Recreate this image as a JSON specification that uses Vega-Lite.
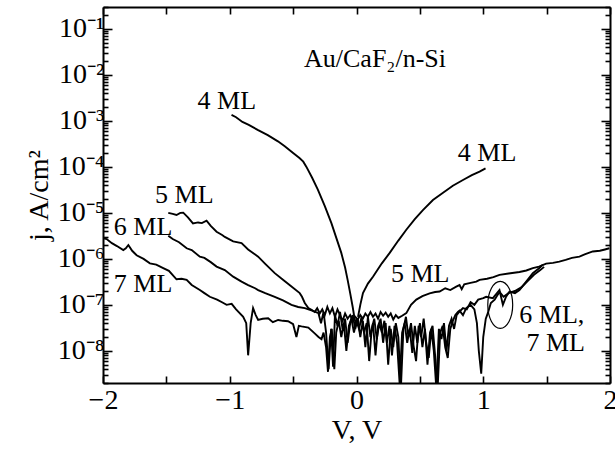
{
  "$schema": "https://vega.github.io/schema/vega-lite/v6.json",
  "width": 507,
  "height": 376,
  "autosize": "none",
  "padding": {"left": 103, "top": 7, "right": 5, "bottom": 69},
  "background": "white",
  "config": {
    "view": {"stroke": null},
    "font": "Liberation Serif",
    "axis": {
      "grid": false,
      "domainColor": "black",
      "domainWidth": 2,
      "tickColor": "black",
      "tickWidth": 1.6,
      "labelColor": "black",
      "titleColor": "black",
      "labelFont": "Liberation Serif",
      "titleFont": "Liberation Serif",
      "labelFontSize": 28,
      "titleFontSize": 28,
      "titleFontWeight": "normal"
    }
  },
  "datasets": {
    "curves": [
      {"s": "4n", "v": -0.986, "j": 1.35e-3},
      {"s": "4n", "v": -0.95, "j": 1.2e-3},
      {"s": "4n", "v": -0.9, "j": 9.5e-4},
      {"s": "4n", "v": -0.85, "j": 8.2e-4},
      {"s": "4n", "v": -0.78, "j": 6.4e-4},
      {"s": "4n", "v": -0.7, "j": 4.9e-4},
      {"s": "4n", "v": -0.62, "j": 3.6e-4},
      {"s": "4n", "v": -0.566, "j": 2.8e-4},
      {"s": "4n", "v": -0.5, "j": 2.0e-4},
      {"s": "4n", "v": -0.45, "j": 1.56e-4},
      {"s": "4n", "v": -0.42, "j": 1.3e-4},
      {"s": "4n", "v": -0.395, "j": 1.0e-4},
      {"s": "4n", "v": -0.35, "j": 5.8e-5},
      {"s": "4n", "v": -0.305, "j": 3.2e-5},
      {"s": "4n", "v": -0.25, "j": 1.4e-5},
      {"s": "4n", "v": -0.198, "j": 6e-6},
      {"s": "4n", "v": -0.16, "j": 2.9e-6},
      {"s": "4n", "v": -0.12, "j": 1.35e-6},
      {"s": "4n", "v": -0.09, "j": 6.5e-7},
      {"s": "4n", "v": -0.07, "j": 3.5e-7},
      {"s": "4n", "v": -0.05, "j": 1.8e-7},
      {"s": "4n", "v": -0.03, "j": 9e-8},
      {"s": "4n", "v": -0.015, "j": 5e-8},
      {"s": "4n", "v": -0.005, "j": 4e-8},
      {"s": "4p", "v": 0.012, "j": 5.5e-8},
      {"s": "4p", "v": 0.03, "j": 1.0e-7},
      {"s": "4p", "v": 0.051, "j": 1.8e-7},
      {"s": "4p", "v": 0.09, "j": 2.9e-7},
      {"s": "4p", "v": 0.13, "j": 4.1e-7},
      {"s": "4p", "v": 0.2, "j": 8e-7},
      {"s": "4p", "v": 0.262, "j": 1.35e-6},
      {"s": "4p", "v": 0.33, "j": 2.5e-6},
      {"s": "4p", "v": 0.393, "j": 4.3e-6},
      {"s": "4p", "v": 0.46, "j": 7.3e-6},
      {"s": "4p", "v": 0.524, "j": 1.15e-5},
      {"s": "4p", "v": 0.603, "j": 1.9e-5},
      {"s": "4p", "v": 0.68, "j": 2.7e-5},
      {"s": "4p", "v": 0.76, "j": 3.9e-5},
      {"s": "4p", "v": 0.84, "j": 5.2e-5},
      {"s": "4p", "v": 0.91, "j": 6.6e-5},
      {"s": "4p", "v": 0.971, "j": 7.9e-5},
      {"s": "4p", "v": 1.018, "j": 9.3e-5},
      {"s": "5", "v": -1.485, "j": 1.0e-5},
      {"s": "5", "v": -1.45, "j": 9.5e-6},
      {"s": "5", "v": -1.42, "j": 9.0e-6},
      {"s": "5", "v": -1.39, "j": 1.0e-5},
      {"s": "5", "v": -1.367, "j": 1.01e-5},
      {"s": "5", "v": -1.33, "j": 8e-6},
      {"s": "5", "v": -1.29, "j": 5.9e-6},
      {"s": "5", "v": -1.25, "j": 6.2e-6},
      {"s": "5", "v": -1.22, "j": 6.0e-6},
      {"s": "5", "v": -1.183, "j": 6.8e-6},
      {"s": "5", "v": -1.15, "j": 5.2e-6},
      {"s": "5", "v": -1.104, "j": 3.9e-6},
      {"s": "5", "v": -1.06, "j": 3.3e-6},
      {"s": "5", "v": -1.039, "j": 3.0e-6},
      {"s": "5", "v": -0.973, "j": 2.4e-6},
      {"s": "5", "v": -0.907, "j": 2.2e-6},
      {"s": "5", "v": -0.855, "j": 1.6e-6},
      {"s": "5", "v": -0.776, "j": 1.12e-6},
      {"s": "5", "v": -0.72, "j": 7.8e-7},
      {"s": "5", "v": -0.645, "j": 4.9e-7},
      {"s": "5", "v": -0.58, "j": 3.5e-7},
      {"s": "5", "v": -0.513, "j": 2.5e-7},
      {"s": "5", "v": -0.448, "j": 1.8e-7},
      {"s": "5", "v": -0.43, "j": 1.5e-7},
      {"s": "5", "v": -0.408, "j": 1.1e-7},
      {"s": "5", "v": -0.38, "j": 8.5e-8},
      {"s": "5", "v": -0.355, "j": 7.8e-8},
      {"s": "5", "v": -0.33, "j": 7e-8},
      {"s": "5", "v": -0.31, "j": 8.5e-8},
      {"s": "5", "v": -0.29, "j": 6.5e-8},
      {"s": "5", "v": -0.27, "j": 8e-8},
      {"s": "5", "v": -0.25, "j": 6e-8},
      {"s": "5", "v": -0.23, "j": 9e-8},
      {"s": "5", "v": -0.21, "j": 6.5e-8},
      {"s": "5", "v": -0.19, "j": 8.5e-8},
      {"s": "5", "v": -0.17, "j": 5.5e-8},
      {"s": "5", "v": -0.15, "j": 8e-8},
      {"s": "5", "v": -0.13, "j": 6e-8},
      {"s": "5", "v": -0.11, "j": 4.5e-8},
      {"s": "5", "v": -0.09, "j": 6.5e-8},
      {"s": "5", "v": -0.07, "j": 5e-8},
      {"s": "5", "v": -0.05, "j": 6e-8},
      {"s": "5", "v": -0.03, "j": 4.5e-8},
      {"s": "5", "v": -0.01, "j": 5.5e-8},
      {"s": "5", "v": 0.01, "j": 4.8e-8},
      {"s": "5", "v": 0.03, "j": 6e-8},
      {"s": "5", "v": 0.05, "j": 5e-8},
      {"s": "5", "v": 0.07, "j": 6.5e-8},
      {"s": "5", "v": 0.09, "j": 5.5e-8},
      {"s": "5", "v": 0.11, "j": 7e-8},
      {"s": "5", "v": 0.13, "j": 5.5e-8},
      {"s": "5", "v": 0.15, "j": 6.5e-8},
      {"s": "5", "v": 0.17, "j": 5e-8},
      {"s": "5", "v": 0.19, "j": 7e-8},
      {"s": "5", "v": 0.21, "j": 5.8e-8},
      {"s": "5", "v": 0.23, "j": 6.8e-8},
      {"s": "5", "v": 0.25, "j": 5.5e-8},
      {"s": "5", "v": 0.27, "j": 6.5e-8},
      {"s": "5", "v": 0.29, "j": 4.8e-8},
      {"s": "5", "v": 0.31, "j": 6e-8},
      {"s": "5", "v": 0.33, "j": 5.2e-8},
      {"s": "5", "v": 0.36, "j": 5.8e-8},
      {"s": "5", "v": 0.393, "j": 6.6e-8},
      {"s": "5", "v": 0.43, "j": 1.0e-7},
      {"s": "5", "v": 0.472, "j": 1.3e-7},
      {"s": "5", "v": 0.52, "j": 1.55e-7},
      {"s": "5", "v": 0.577, "j": 1.78e-7},
      {"s": "5", "v": 0.62, "j": 1.9e-7},
      {"s": "5", "v": 0.656, "j": 1.95e-7},
      {"s": "5", "v": 0.7, "j": 2.3e-7},
      {"s": "5", "v": 0.74, "j": 2.1e-7},
      {"s": "5", "v": 0.787, "j": 2.5e-7},
      {"s": "5", "v": 0.813, "j": 2.7e-7},
      {"s": "5", "v": 0.83, "j": 2.2e-7},
      {"s": "5", "v": 0.85, "j": 2.8e-7},
      {"s": "5", "v": 0.9, "j": 3.0e-7},
      {"s": "5", "v": 0.945, "j": 3.2e-7},
      {"s": "5", "v": 0.971, "j": 3.5e-7},
      {"s": "5", "v": 1.03, "j": 3.7e-7},
      {"s": "5", "v": 1.08, "j": 4.0e-7},
      {"s": "5", "v": 1.128, "j": 4.5e-7},
      {"s": "5", "v": 1.2, "j": 4.8e-7},
      {"s": "5", "v": 1.286, "j": 5.2e-7},
      {"s": "5", "v": 1.34, "j": 5.6e-7},
      {"s": "5", "v": 1.391, "j": 6.3e-7},
      {"s": "5", "v": 1.44, "j": 6.8e-7},
      {"s": "5", "v": 1.496, "j": 7.9e-7},
      {"s": "5", "v": 1.55, "j": 8.2e-7},
      {"s": "5", "v": 1.6, "j": 8.7e-7},
      {"s": "5", "v": 1.65, "j": 9.5e-7},
      {"s": "5", "v": 1.7, "j": 1.05e-6},
      {"s": "5", "v": 1.759, "j": 1.12e-6},
      {"s": "5", "v": 1.8, "j": 1.25e-6},
      {"s": "5", "v": 1.864, "j": 1.45e-6},
      {"s": "5", "v": 1.92, "j": 1.5e-6},
      {"s": "5", "v": 1.96, "j": 1.6e-6},
      {"s": "5", "v": 1.995, "j": 1.7e-6},
      {"s": "6", "v": -1.485, "j": 3.2e-6},
      {"s": "6", "v": -1.45, "j": 2.7e-6},
      {"s": "6", "v": -1.4, "j": 2.3e-6},
      {"s": "6", "v": -1.34, "j": 1.7e-6},
      {"s": "6", "v": -1.3, "j": 1.55e-6},
      {"s": "6", "v": -1.236, "j": 1.12e-6},
      {"s": "6", "v": -1.2, "j": 1.05e-6},
      {"s": "6", "v": -1.15, "j": 8.5e-7},
      {"s": "6", "v": -1.104, "j": 6.8e-7},
      {"s": "6", "v": -1.039, "j": 5.7e-7},
      {"s": "6", "v": -0.973, "j": 4.1e-7},
      {"s": "6", "v": -0.907, "j": 3.2e-7},
      {"s": "6", "v": -0.855, "j": 2.7e-7},
      {"s": "6", "v": -0.8, "j": 2.3e-7},
      {"s": "6", "v": -0.776, "j": 2.1e-7},
      {"s": "6", "v": -0.72, "j": 1.8e-7},
      {"s": "6", "v": -0.645, "j": 1.5e-7},
      {"s": "6", "v": -0.58, "j": 1.25e-7},
      {"s": "6", "v": -0.513, "j": 1.0e-7},
      {"s": "6", "v": -0.46, "j": 9e-8},
      {"s": "6", "v": -0.408, "j": 8.5e-8},
      {"s": "6", "v": -0.35, "j": 7.5e-8},
      {"s": "6", "v": -0.3, "j": 6.6e-8},
      {"s": "6", "v": -0.28, "j": 4e-8},
      {"s": "6", "v": -0.26, "j": 7e-8},
      {"s": "6", "v": -0.24, "j": 2.5e-8},
      {"s": "6", "v": -0.22, "j": 4e-9},
      {"s": "6", "v": -0.2, "j": 3e-8},
      {"s": "6", "v": -0.185, "j": 4.5e-9},
      {"s": "6", "v": -0.17, "j": 6e-8},
      {"s": "6", "v": -0.15, "j": 3.5e-8},
      {"s": "6", "v": -0.13, "j": 7e-8},
      {"s": "6", "v": -0.11, "j": 3e-8},
      {"s": "6", "v": -0.09, "j": 5e-8},
      {"s": "6", "v": -0.07, "j": 1.5e-8},
      {"s": "6", "v": -0.05, "j": 4e-8},
      {"s": "6", "v": -0.03, "j": 6e-8},
      {"s": "6", "v": -0.01, "j": 3e-8},
      {"s": "6", "v": 0.01, "j": 5e-8},
      {"s": "6", "v": 0.03, "j": 2e-8},
      {"s": "6", "v": 0.05, "j": 4.5e-8},
      {"s": "6", "v": 0.07, "j": 1.2e-8},
      {"s": "6", "v": 0.09, "j": 5.5e-8},
      {"s": "6", "v": 0.11, "j": 2e-8},
      {"s": "6", "v": 0.13, "j": 4e-8},
      {"s": "6", "v": 0.15, "j": 8e-9},
      {"s": "6", "v": 0.17, "j": 3.5e-8},
      {"s": "6", "v": 0.19, "j": 5e-8},
      {"s": "6", "v": 0.21, "j": 1.5e-8},
      {"s": "6", "v": 0.23, "j": 4e-8},
      {"s": "6", "v": 0.25, "j": 5e-9},
      {"s": "6", "v": 0.27, "j": 3e-8},
      {"s": "6", "v": 0.29, "j": 1.2e-8},
      {"s": "6", "v": 0.31, "j": 4e-8},
      {"s": "6", "v": 0.33, "j": 2e-8},
      {"s": "6", "v": 0.35, "j": 1.5e-9},
      {"s": "6", "v": 0.37, "j": 3e-8},
      {"s": "6", "v": 0.39, "j": 5.5e-8},
      {"s": "6", "v": 0.41, "j": 2e-8},
      {"s": "6", "v": 0.43, "j": 4e-8},
      {"s": "6", "v": 0.45, "j": 1.3e-8},
      {"s": "6", "v": 0.47, "j": 6e-9},
      {"s": "6", "v": 0.49, "j": 3.5e-8},
      {"s": "6", "v": 0.51, "j": 2e-8},
      {"s": "6", "v": 0.53, "j": 5e-8},
      {"s": "6", "v": 0.55, "j": 1.5e-8},
      {"s": "6", "v": 0.57, "j": 7e-9},
      {"s": "6", "v": 0.59, "j": 3e-8},
      {"s": "6", "v": 0.61, "j": 1e-8},
      {"s": "6", "v": 0.63, "j": 1.5e-9},
      {"s": "6", "v": 0.65, "j": 3e-8},
      {"s": "6", "v": 0.67, "j": 1.8e-8},
      {"s": "6", "v": 0.69, "j": 4e-8},
      {"s": "6", "v": 0.71, "j": 1e-8},
      {"s": "6", "v": 0.73, "j": 3.5e-8},
      {"s": "6", "v": 0.75, "j": 5e-8},
      {"s": "6", "v": 0.77, "j": 3e-8},
      {"s": "6", "v": 0.79, "j": 6e-8},
      {"s": "6", "v": 0.81, "j": 7e-8},
      {"s": "6", "v": 0.84, "j": 8.5e-8},
      {"s": "6", "v": 0.87, "j": 8e-8},
      {"s": "6", "v": 0.9, "j": 1.15e-7},
      {"s": "6", "v": 0.93, "j": 1.0e-7},
      {"s": "6", "v": 0.96, "j": 1.3e-7},
      {"s": "6", "v": 1.0, "j": 1.4e-7},
      {"s": "6", "v": 1.023, "j": 1.5e-7},
      {"s": "6", "v": 1.076, "j": 1.4e-7},
      {"s": "6", "v": 1.128, "j": 2.1e-7},
      {"s": "6", "v": 1.155, "j": 1.0e-7},
      {"s": "6", "v": 1.18, "j": 1.5e-7},
      {"s": "6", "v": 1.207, "j": 1.95e-7},
      {"s": "6", "v": 1.25, "j": 1.8e-7},
      {"s": "6", "v": 1.286, "j": 2.1e-7},
      {"s": "6", "v": 1.339, "j": 3.2e-7},
      {"s": "6", "v": 1.391, "j": 4.9e-7},
      {"s": "6", "v": 1.443, "j": 6.3e-7},
      {"s": "6", "v": 1.47, "j": 7.5e-7},
      {"s": "7", "v": -1.995, "j": 2.8e-6},
      {"s": "7", "v": -1.971, "j": 2.7e-6},
      {"s": "7", "v": -1.93, "j": 2.2e-6},
      {"s": "7", "v": -1.89, "j": 1.9e-6},
      {"s": "7", "v": -1.84, "j": 1.55e-6},
      {"s": "7", "v": -1.82, "j": 1.7e-6},
      {"s": "7", "v": -1.8, "j": 2.0e-6},
      {"s": "7", "v": -1.77, "j": 1.5e-6},
      {"s": "7", "v": -1.735, "j": 1.2e-6},
      {"s": "7", "v": -1.68, "j": 1.0e-6},
      {"s": "7", "v": -1.63, "j": 8e-7},
      {"s": "7", "v": -1.58, "j": 7.5e-7},
      {"s": "7", "v": -1.525, "j": 6.3e-7},
      {"s": "7", "v": -1.48, "j": 5.5e-7},
      {"s": "7", "v": -1.42, "j": 3.6e-7},
      {"s": "7", "v": -1.38, "j": 3.7e-7},
      {"s": "7", "v": -1.34, "j": 3.5e-7},
      {"s": "7", "v": -1.3, "j": 2.7e-7},
      {"s": "7", "v": -1.236, "j": 2.1e-7},
      {"s": "7", "v": -1.2, "j": 1.8e-7},
      {"s": "7", "v": -1.157, "j": 1.5e-7},
      {"s": "7", "v": -1.1, "j": 1.3e-7},
      {"s": "7", "v": -1.05, "j": 1.1e-7},
      {"s": "7", "v": -1.025, "j": 1.0e-7},
      {"s": "7", "v": -0.985, "j": 1.05e-7},
      {"s": "7", "v": -0.95, "j": 8e-8},
      {"s": "7", "v": -0.894, "j": 5.5e-8},
      {"s": "7", "v": -0.87, "j": 4e-8},
      {"s": "7", "v": -0.855, "j": 8e-9},
      {"s": "7", "v": -0.835, "j": 4e-8},
      {"s": "7", "v": -0.816, "j": 8.5e-8},
      {"s": "7", "v": -0.795, "j": 6e-8},
      {"s": "7", "v": -0.776, "j": 4.7e-8},
      {"s": "7", "v": -0.74, "j": 5e-8},
      {"s": "7", "v": -0.697, "j": 5.1e-8},
      {"s": "7", "v": -0.66, "j": 4.2e-8},
      {"s": "7", "v": -0.618, "j": 4.7e-8},
      {"s": "7", "v": -0.58, "j": 4.5e-8},
      {"s": "7", "v": -0.54, "j": 4.4e-8},
      {"s": "7", "v": -0.5, "j": 3.8e-8},
      {"s": "7", "v": -0.474, "j": 2.0e-8},
      {"s": "7", "v": -0.455, "j": 3.5e-8},
      {"s": "7", "v": -0.434, "j": 3.4e-8},
      {"s": "7", "v": -0.38, "j": 3.2e-8},
      {"s": "7", "v": -0.33, "j": 2.4e-8},
      {"s": "7", "v": -0.3, "j": 2.0e-8},
      {"s": "7", "v": -0.276, "j": 1.8e-8},
      {"s": "7", "v": -0.26, "j": 2.5e-8},
      {"s": "7", "v": -0.24, "j": 1.2e-8},
      {"s": "7", "v": -0.225, "j": 3.5e-9},
      {"s": "7", "v": -0.21, "j": 2e-8},
      {"s": "7", "v": -0.195, "j": 3e-8},
      {"s": "7", "v": -0.175, "j": 4e-9},
      {"s": "7", "v": -0.16, "j": 2.5e-8},
      {"s": "7", "v": -0.14, "j": 4.5e-8},
      {"s": "7", "v": -0.12, "j": 2e-8},
      {"s": "7", "v": -0.1, "j": 4e-8},
      {"s": "7", "v": -0.08, "j": 1e-8},
      {"s": "7", "v": -0.06, "j": 3.5e-8},
      {"s": "7", "v": -0.04, "j": 5e-8},
      {"s": "7", "v": -0.02, "j": 2.5e-8},
      {"s": "7", "v": 0.0, "j": 4.5e-8},
      {"s": "7", "v": 0.02, "j": 3e-8},
      {"s": "7", "v": 0.04, "j": 5.5e-8},
      {"s": "7", "v": 0.06, "j": 2.5e-8},
      {"s": "7", "v": 0.08, "j": 4e-8},
      {"s": "7", "v": 0.1, "j": 6e-9},
      {"s": "7", "v": 0.12, "j": 3e-8},
      {"s": "7", "v": 0.14, "j": 5e-8},
      {"s": "7", "v": 0.16, "j": 1.8e-8},
      {"s": "7", "v": 0.18, "j": 4e-8},
      {"s": "7", "v": 0.2, "j": 2.5e-8},
      {"s": "7", "v": 0.22, "j": 4.5e-8},
      {"s": "7", "v": 0.24, "j": 1.5e-8},
      {"s": "7", "v": 0.26, "j": 3.5e-8},
      {"s": "7", "v": 0.28, "j": 8e-9},
      {"s": "7", "v": 0.3, "j": 3.5e-8},
      {"s": "7", "v": 0.32, "j": 1.5e-8},
      {"s": "7", "v": 0.34, "j": 2e-9},
      {"s": "7", "v": 0.36, "j": 2.5e-8},
      {"s": "7", "v": 0.38, "j": 4e-8},
      {"s": "7", "v": 0.4, "j": 1.5e-8},
      {"s": "7", "v": 0.42, "j": 3e-8},
      {"s": "7", "v": 0.44, "j": 9e-9},
      {"s": "7", "v": 0.46, "j": 3.5e-8},
      {"s": "7", "v": 0.48, "j": 1.5e-8},
      {"s": "7", "v": 0.5, "j": 4e-8},
      {"s": "7", "v": 0.52, "j": 1.2e-8},
      {"s": "7", "v": 0.54, "j": 3e-8},
      {"s": "7", "v": 0.56, "j": 5e-9},
      {"s": "7", "v": 0.58, "j": 2.5e-8},
      {"s": "7", "v": 0.6, "j": 3.5e-8},
      {"s": "7", "v": 0.62, "j": 8e-9},
      {"s": "7", "v": 0.64, "j": 1.5e-9},
      {"s": "7", "v": 0.66, "j": 2.5e-8},
      {"s": "7", "v": 0.68, "j": 3.5e-8},
      {"s": "7", "v": 0.7, "j": 1.2e-8},
      {"s": "7", "v": 0.72, "j": 7e-9},
      {"s": "7", "v": 0.74, "j": 3e-8},
      {"s": "7", "v": 0.76, "j": 4.5e-8},
      {"s": "7", "v": 0.78, "j": 6e-8},
      {"s": "7", "v": 0.8, "j": 7e-8},
      {"s": "7", "v": 0.813, "j": 7.5e-8},
      {"s": "7", "v": 0.84, "j": 6e-8},
      {"s": "7", "v": 0.866, "j": 8.5e-8},
      {"s": "7", "v": 0.9, "j": 1.0e-7},
      {"s": "7", "v": 0.93, "j": 8e-8},
      {"s": "7", "v": 0.95, "j": 4e-8},
      {"s": "7", "v": 0.965, "j": 1e-8},
      {"s": "7", "v": 0.984, "j": 3.2e-9},
      {"s": "7", "v": 1.0, "j": 2e-8},
      {"s": "7", "v": 1.02, "j": 5e-8},
      {"s": "7", "v": 1.036, "j": 6.6e-8},
      {"s": "7", "v": 1.06, "j": 1.1e-7},
      {"s": "7", "v": 1.09, "j": 1.3e-7},
      {"s": "7", "v": 1.11, "j": 1.6e-7},
      {"s": "7", "v": 1.13, "j": 1.9e-7},
      {"s": "7", "v": 1.16, "j": 1.5e-7},
      {"s": "7", "v": 1.2, "j": 1.8e-7},
      {"s": "7", "v": 1.25, "j": 2.0e-7},
      {"s": "7", "v": 1.3, "j": 2.4e-7},
      {"s": "7", "v": 1.35, "j": 3.3e-7},
      {"s": "7", "v": 1.4, "j": 4.5e-7},
      {"s": "7", "v": 1.45, "j": 5.7e-7},
      {"s": "7", "v": 1.48, "j": 6.7e-7}
    ],
    "labels": [
      {"t": "Au/CaF₂/n-Si", "v": 0.146, "j": 2.2e-2},
      {"t": "4 ML", "v": -1.023, "j": 2.7e-3},
      {"t": "4 ML", "v": 1.03, "j": 2.0e-4},
      {"t": "5 ML", "v": -1.358, "j": 2.5e-5},
      {"t": "6 ML", "v": -1.684, "j": 5.0e-6},
      {"t": "7 ML", "v": -1.684, "j": 2.9e-7},
      {"t": "5 ML", "v": 0.502, "j": 4.8e-7},
      {"t": "6 ML,", "v": 1.541, "j": 6.0e-8},
      {"t": "7 ML", "v": 1.572, "j": 1.5e-8}
    ],
    "ellipse": [
      {"v": 1.134, "j": 1.0e-7}
    ]
  },
  "resolve": {"scale": {"x": "independent", "y": "independent"}},
  "layer": [
    {
      "layer": [
        {
          "data": {"name": "curves"},
          "mark": {"type": "line", "color": "black", "strokeWidth": 1.9, "clip": true},
          "encoding": {
            "x": {
              "field": "v", "type": "quantitative",
              "scale": {"domain": [-2, 2], "nice": false, "zero": false},
              "axis": {
                "orient": "bottom",
                "title": "V, V",
                "values": [-2, -1.5, -1, -0.5, 0, 0.5, 1, 1.5, 2],
                "labelExpr": "datum.value % 1 == 0 ? (datum.value < 0 ? '−' + abs(datum.value) : '' + datum.value) : ''",
                "tickSize": -7,
                "labelPadding": 10,
                "labelFlush": false,
                "titlePadding": 2
              }
            },
            "y": {
              "field": "j", "type": "quantitative",
              "scale": {"type": "log", "domain": [2e-9, 0.3], "nice": false},
              "axis": {
                "orient": "left",
                "title": "j, A/cm²",
                "values": [2e-9, 3e-9, 4e-9, 5e-9, 6e-9, 7e-9, 8e-9, 9e-9, 1e-8, 2e-8, 3e-8, 4e-8, 5e-8, 6e-8, 7e-8, 8e-8, 9e-8, 1e-7, 2e-7, 3e-7, 4e-7, 5e-7, 6e-7, 7e-7, 8e-7, 9e-7, 1e-6, 2e-6, 3e-6, 4e-6, 5e-6, 6e-6, 7e-6, 8e-6, 9e-6, 1e-5, 2e-5, 3e-5, 4e-5, 5e-5, 6e-5, 7e-5, 8e-5, 9e-5, 1e-4, 2e-4, 3e-4, 4e-4, 5e-4, 6e-4, 7e-4, 8e-4, 9e-4, 1e-3, 2e-3, 3e-3, 4e-3, 5e-3, 6e-3, 7e-3, 8e-3, 9e-3, 1e-2, 2e-2, 3e-2, 4e-2, 5e-2, 6e-2, 7e-2, 8e-2, 9e-2, 0.1, 0.2, 0.3],
                "labelExpr": "abs(log(datum.value)/LN10 - round(log(datum.value)/LN10)) < 0.01 ? '10⁻' + ['', '¹', '²', '³', '⁴', '⁵', '⁶', '⁷', '⁸', '⁹'][-round(log(datum.value)/LN10)] : ''",
                "tickSize": {"condition": {"test": "abs(log(datum.value)/LN10 - round(log(datum.value)/LN10)) < 0.01", "value": -9}, "value": -5},
                "labelPadding": 8,
                "labelFlush": false,
                "labelOverlap": false,
                "titlePadding": 4
              }
            },
            "detail": {"field": "s"}
          }
        },
        {
          "data": {"name": "labels"},
          "mark": {"type": "text", "font": "Liberation Serif", "fontSize": 26, "color": "black", "align": "center", "baseline": "middle"},
          "encoding": {
            "x": {"field": "v", "type": "quantitative"},
            "y": {"field": "j", "type": "quantitative", "scale": {"type": "log"}},
            "text": {"field": "t"}
          }
        },
        {
          "data": {"name": "ellipse"},
          "mark": {"type": "point", "shape": "M0,-1A0.53,1 0 1,0 0,1A0.53,1 0 1,0 0,-1Z", "size": 2209, "filled": false, "stroke": "black", "strokeWidth": 1.2, "opacity": 1},
          "encoding": {
            "x": {"field": "v", "type": "quantitative"},
            "y": {"field": "j", "type": "quantitative", "scale": {"type": "log"}}
          }
        }
      ]
    },
    {
      "data": {"name": "curves"},
      "mark": {"type": "line", "opacity": 0},
      "encoding": {
        "x": {
          "field": "v", "type": "quantitative",
          "scale": {"domain": [-2, 2], "nice": false, "zero": false},
          "axis": {"orient": "top", "title": null, "labels": false, "values": [-2, -1.5, -1, -0.5, 0, 0.5, 1, 1.5, 2], "tickSize": -7}
        },
        "y": {
          "field": "j", "type": "quantitative",
          "scale": {"type": "log", "domain": [2e-9, 0.3], "nice": false},
          "axis": {
            "orient": "right", "title": null, "labels": false,
            "values": [2e-9, 3e-9, 4e-9, 5e-9, 6e-9, 7e-9, 8e-9, 9e-9, 1e-8, 2e-8, 3e-8, 4e-8, 5e-8, 6e-8, 7e-8, 8e-8, 9e-8, 1e-7, 2e-7, 3e-7, 4e-7, 5e-7, 6e-7, 7e-7, 8e-7, 9e-7, 1e-6, 2e-6, 3e-6, 4e-6, 5e-6, 6e-6, 7e-6, 8e-6, 9e-6, 1e-5, 2e-5, 3e-5, 4e-5, 5e-5, 6e-5, 7e-5, 8e-5, 9e-5, 1e-4, 2e-4, 3e-4, 4e-4, 5e-4, 6e-4, 7e-4, 8e-4, 9e-4, 1e-3, 2e-3, 3e-3, 4e-3, 5e-3, 6e-3, 7e-3, 8e-3, 9e-3, 1e-2, 2e-2, 3e-2, 4e-2, 5e-2, 6e-2, 7e-2, 8e-2, 9e-2, 0.1, 0.2, 0.3],
            "tickSize": {"condition": {"test": "abs(log(datum.value)/LN10 - round(log(datum.value)/LN10)) < 0.01", "value": -9}, "value": -5}
          }
        },
        "detail": {"field": "s"}
      }
    }
  ]
}
